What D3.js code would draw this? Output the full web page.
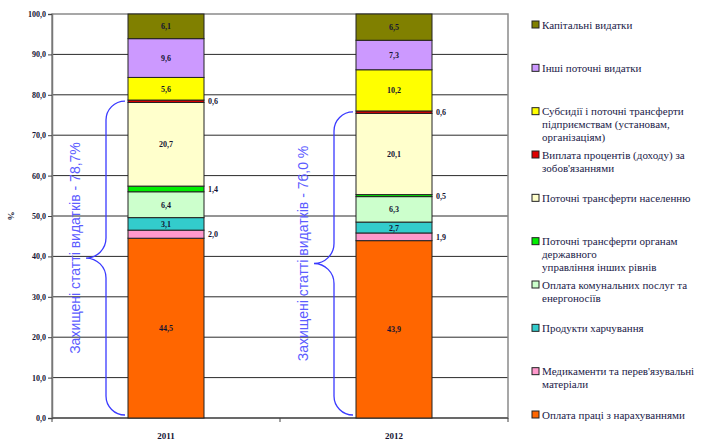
<!DOCTYPE html>
<html lang="uk">
<head>
<meta charset="UTF-8">
<title>Структура видатків</title>
<script src="https://d3js.org/d3.v7.min.js"></script>
<style>
  body { margin: 0; background: #fff; }
  .tick text, .seg-label { font-family: "Liberation Serif", serif; font-weight: bold; font-size: 8px; fill: #141433; }
  .legend text { font-family: "Liberation Serif", serif; font-size: 11px; fill: #1a1a48; }
  .brace-label { font-family: "Liberation Sans", Arial, sans-serif; font-size: 14px; fill: #5c5cff; }
</style>
</head>
<body>
<div id="chart"></div>
<script>
// роки
const years = ["2011", "2012"];

// статті видатків (знизу вгору)
const items = [
  "Оплата праці з нарахуваннями",
  "Медикаменти та перев'язувальні матеріали",
  "Продукти харчування",
  "Оплата комунальних послуг та енергоносіїв",
  "Поточні трансферти органам державного управління інших рівнів",
  "Поточні трансферти населенню",
  "Виплата процентів (доходу) за зобов'язаннями",
  "Субсидії і поточні трансферти підприємствам (установам, організаціям)",
  "Інші поточні видатки",
  "Капітальні видатки"
];

// рядки підписів легенди (як у оригіналі)
const legendLines = [
  ["Оплата праці з нарахуваннями"],
  ["Медикаменти та перев'язувальні", "матеріали"],
  ["Продукти харчування"],
  ["Оплата комунальних послуг та", "енергоносіїв"],
  ["Поточні трансферти органам", "державного", "управління інших рівнів"],
  ["Поточні трансферти населенню"],
  ["Виплата процентів (доходу) за", "зобов'язаннями"],
  ["Субсидії і поточні трансферти", "підприємствам (установам,", "організаціям)"],
  ["Інші поточні видатки"],
  ["Капітальні видатки"]
];

const colors = ["#ff6600", "#ff99cc", "#33cccc", "#ccffcc", "#00ee00",
                "#ffffcc", "#dd0000", "#ffff00", "#cc99ff", "#808000"];

// частки, %
const values2011 = [44.5, 2.0, 3.1, 6.4, 1.4, 20.7, 0.6, 5.6, 9.6, 6.1];
const values2012 = [43.9, 1.9, 2.7, 6.3, 0.5, 20.1, 0.6, 10.2, 7.3, 6.5];

// захищені статті - перші 7 позицій
const protectedCount = 7;
const braceText = ["Захищені статті видатків - 78,7%", "Захищені статті видатків - 76,0 %"];

const yTicks = d3.range(0, 101, 10);

const width = 710, height = 441;
const margin = {top: 14, right: 202, bottom: 23, left: 52};

const svg = d3.select("#chart").append("svg")
  .attr("width", width).attr("height", height);

const x = d3.scaleBand().domain(years)
  .range([margin.left, width - margin.right])
  .paddingInner(2 / 3).paddingOuter(1 / 3);
const y = d3.scaleLinear().domain([0, 100])
  .range([height - margin.bottom, margin.top]);

const fmt = v => v.toFixed(1).replace(".", ",");

// сітка
svg.append("g")
  .selectAll("line")
  .data(yTicks.slice(1, -1))
  .join("line")
  .attr("x1", margin.left).attr("x2", width - margin.right)
  .attr("y1", d => y(d)).attr("y2", d => y(d))
  .attr("stroke", "#2a2a2a").attr("stroke-width", 1);

// рамка області побудови
svg.append("rect")
  .attr("x", margin.left).attr("y", margin.top)
  .attr("width", width - margin.right - margin.left)
  .attr("height", y(0) - margin.top)
  .attr("fill", "none").attr("stroke", "#8a8a8a").attr("stroke-width", 1.5);

// вісь Y
const yAxis = svg.append("g")
  .attr("transform", `translate(${margin.left},0)`)
  .call(d3.axisLeft(y).tickValues(yTicks).tickFormat(fmt).tickSize(4).tickPadding(2));
yAxis.select(".domain").attr("stroke", "#777").attr("stroke-width", 1.5);
yAxis.selectAll(".tick line").attr("stroke", "#444");

svg.append("text")
  .attr("transform", `translate(14,${y(50)}) rotate(-90)`)
  .attr("text-anchor", "middle")
  .attr("class", "seg-label")
  .style("font-size", "9px")
  .text("%");

// вісь X
svg.append("line")
  .attr("x1", margin.left).attr("x2", width - margin.right)
  .attr("y1", y(0)).attr("y2", y(0))
  .attr("stroke", "#555").attr("stroke-width", 1.5);
svg.append("g")
  .selectAll("line")
  .data(d3.range(years.length + 1))
  .join("line")
  .attr("x1", i => margin.left + i * x.step())
  .attr("x2", i => margin.left + i * x.step())
  .attr("y1", y(0)).attr("y2", y(0) + 4)
  .attr("stroke", "#444");
svg.append("g")
  .selectAll("text")
  .data(years)
  .join("text")
  .attr("class", "seg-label")
  .attr("x", d => x(d) + x.bandwidth() / 2)
  .attr("y", y(0) + 21)
  .attr("text-anchor", "middle")
  .style("font-size", "9px")
  .text(d => d);

// стовпці
const series = [values2011, values2012];
years.forEach((yr, k) => {
  const vals = series[k];
  let acc = 0;
  const segs = vals.map((v, i) => {
    const s = {i, v, y0: acc, y1: acc + v};
    acc += v;
    return s;
  });
  const g = svg.append("g");
  g.selectAll("rect")
    .data(segs)
    .join("rect")
    .attr("x", x(yr))
    .attr("width", x.bandwidth())
    .attr("y", d => y(d.y1))
    .attr("height", d => y(d.y0) - y(d.y1))
    .attr("fill", d => colors[d.i])
    .attr("stroke", "#222").attr("stroke-width", 1);

  g.selectAll("text")
    .data(segs)
    .join("text")
    .attr("class", "seg-label")
    .attr("x", d => d.v < 2.5 ? x(yr) + x.bandwidth() + 4 : x(yr) + x.bandwidth() / 2)
    .attr("y", d => y((d.y0 + d.y1) / 2) + 3)
    .attr("text-anchor", d => d.v < 2.5 ? "start" : "middle")
    .text(d => fmt(d.v));

  // фігурна дужка
  const top = y(d3.sum(vals.slice(0, protectedCount))) + 1;
  const bot = y(0) - 3;
  const left = x(yr);
  const xe = left - 3, xs = left - 22, xt = left - 42;
  const r1 = xe - xs, r2 = xs - xt;
  const mid = (top + bot) / 2;
  const p = d3.path();
  p.moveTo(xe, top);
  p.arcTo(xs, top, xs, top + r1, r1);
  p.lineTo(xs, mid - r2);
  p.arcTo(xs, mid, xt, mid, r2);
  p.arcTo(xs, mid, xs, mid + r2, r2);
  p.lineTo(xs, bot - r1);
  p.arcTo(xs, bot, xe, bot, r1);
  p.lineTo(xe, bot);
  svg.append("path")
    .attr("d", p.toString())
    .attr("fill", "none")
    .attr("stroke", "#3a3aff").attr("stroke-width", 1.3);

  svg.append("text")
    .attr("class", "brace-label")
    .attr("transform", `translate(${xt - 11},${mid - 10}) rotate(-90)`)
    .attr("text-anchor", "middle")
    .attr("dy", "0.35em")
    .text(braceText[k]);
});

// легенда (зверху вниз)
const order = d3.range(items.length).reverse();
const ly = d3.scalePoint().domain(order).range([25, 415]);
const legend = svg.append("g").attr("class", "legend");
const le = legend.selectAll("g")
  .data(order)
  .join("g")
  .attr("transform", i => `translate(532,${ly(i)})`);
le.append("rect")
  .attr("x", 0).attr("y", -4)
  .attr("width", 7).attr("height", 7)
  .attr("fill", i => colors[i])
  .attr("stroke", "#222").attr("stroke-width", 1);
le.append("text")
  .attr("x", 10)
  .attr("y", 3.5)
  .selectAll("tspan")
  .data(i => legendLines[i])
  .join("tspan")
  .attr("x", 10)
  .attr("dy", (d, j) => j === 0 ? 0 : 13)
  .text(d => d);
</script>
</body>
</html>
